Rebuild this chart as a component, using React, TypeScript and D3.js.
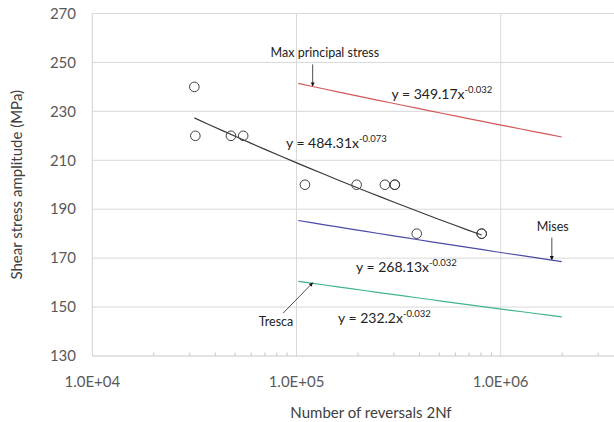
import React from "react";
import * as d3 from "d3";

const W = 614;
const H = 422;

// Experimental data (2Nf, shear stress amplitude MPa)
const expCycles = [31600, 31960, 47750, 54830, 110000, 197000, 271000, 303000, 303000, 388000, 807000, 807000];
const expStress = [240, 220, 220, 220, 200, 200, 200, 200, 200, 180, 180, 180];

// Power-law fits y = a * x^b
const fitNames = ["exp", "maxp", "mises", "tresca"];
const fitA = [484.31, 349.17, 268.13, 232.2];
const fitB = [-0.073, -0.032, -0.032, -0.032];
const fitXStart = [31600, 102000, 102000, 102000];
const fitXEnd = [807000, 1990000, 1990000, 1990000];
const fitColors = ["#3a3a3a", "#d0585a", "#4a4aa8", "#40b48c"];
const fitLabels = ["484.31", "349.17", "268.13", "232.2"];
const fitExp = ["-0.073", "-0.032", "-0.032", "-0.032"];
const eqX = [88800, 292000, 195600, 159700];
const eqY = [215.1, 235.2, 164.5, 143.5];

// Annotation labels
const annText = ["Max principal stress", "Mises", "Tresca"];
const annX = [137700, 1800000, 79400];
const annY = [252.3, 181.2, 142.3];
// arrows: from (x0,y0) to point on fit line at x1
const arrFromX = [120000, 1780000, 86000];
const arrFromY = [249.2, 178.4, 147.5];
const arrToX = [120000, 1780000, 120000];
const arrFit = [1, 2, 3];

const yTicks = [130, 150, 170, 190, 210, 230, 250, 270];
const xMajor = [1e4, 1e5, 1e6, 1e7];
const xTickLabels = ["1.0E+04", "1.0E+05", "1.0E+06"];

const FONT = "Lato, 'Noto Sans', sans-serif";

export default function App() {
  const x = d3.scaleLog().domain([1e4, 1e7]).range([92.3, 704.9]);
  const y = d3.scaleLinear().domain([130, 270]).range([356, 13.5]);
  const fit = (i: number, v: number) => fitA[i] * Math.pow(v, fitB[i]);

  const minor: number[] = [];
  [1e4, 1e5, 1e6].forEach((d) => {
    for (let k = 2; k <= 9; k++) minor.push(d * k);
  });

  return (
    <svg
      width={W}
      height={H}
      style={{ position: "absolute", left: 0, top: 0, background: "#fff" }}
      fontFamily={FONT}
    >
      <defs>
        <marker id="ah" viewBox="0 0 10 10" refX="9" refY="5" markerWidth="5" markerHeight="5" orient="auto">
          <path d="M0,0 L10,5 L0,10 z" fill="#111" />
        </marker>
      </defs>
      <rect x={0} y={0} width={W} height={H} fill="#fff" />
      {/* horizontal gridlines */}
      {yTicks.slice(1).map((t) => (
        <line key={"hy" + t} x1={x(1e4)} x2={W} y1={y(t)} y2={y(t)} stroke="#d9d9d9" strokeWidth={1} />
      ))}
      {/* vertical gridlines */}
      {xMajor.slice(1).map((t) => (
        <line key={"vx" + t} x1={x(t)} x2={x(t)} y1={y(270)} y2={y(130)} stroke="#d9d9d9" strokeWidth={1} />
      ))}
      {/* left axis */}
      <line x1={x(1e4)} x2={x(1e4)} y1={y(270)} y2={y(130)} stroke="#d0d0d0" strokeWidth={1} />
      {/* bottom axis */}
      <line x1={x(1e4)} x2={W} y1={y(130)} y2={y(130)} stroke="#c8c8c8" strokeWidth={1.2} />
      {minor.map((m) => (
        <line key={"mt" + m} x1={x(m)} x2={x(m)} y1={y(130)} y2={y(130) - 3.5} stroke="#c8c8c8" strokeWidth={1} />
      ))}
      {/* y tick labels */}
      {yTicks.map((t) => (
        <text key={"yl" + t} x={76} y={y(t)} dy="0.35em" textAnchor="end" fontSize={15} fill="#595959">
          {t}
        </text>
      ))}
      {/* x tick labels */}
      {xTickLabels.map((lab, i) => (
        <text key={"xl" + lab} x={x(xMajor[i])} y={387} textAnchor="middle" fontSize={15} fill="#595959">
          {lab}
        </text>
      ))}
      {/* axis titles */}
      <text x={371} y={418} textAnchor="middle" fontSize={15} fill="#404040">
        Number of reversals 2Nf
      </text>
      <text
        transform={`translate(22,${(y(270) + y(130)) / 2}) rotate(-90)`}
        textAnchor="middle"
        fontSize={15}
        fill="#404040"
      >
        Shear stress amplitude (MPa)
      </text>
      {/* fit lines */}
      {fitNames.map((n, i) => {
        const xs = [fitXStart[i], fitXEnd[i]];
        const pts = d3.range(0, 21).map((k) => Math.exp(Math.log(xs[0]) + (k / 20) * (Math.log(xs[1]) - Math.log(xs[0]))));
        const path = d3
          .line<number>()
          .x((d) => x(d))
          .y((d) => y(fit(i, d)))(pts);
        return <path key={n} d={path || ""} fill="none" stroke={fitColors[i]} strokeWidth={1.2} />;
      })}
      {/* data points */}
      {expCycles.map((c, i) => (
        <circle key={"p" + i} cx={x(c)} cy={y(expStress[i])} r={4.8} fill="none" stroke="#404040" strokeWidth={1} />
      ))}
      {/* equations */}
      {fitNames.map((n, i) => (
        <text key={"eq" + n} x={x(eqX[i])} y={y(eqY[i])} fontSize={14} fill="#222">
          {"y = " + fitLabels[i] + "x"}
          <tspan fontSize={9.5} dy={-6}>
            {fitExp[i]}
          </tspan>
        </text>
      ))}
      {/* annotations */}
      {annText.map((t, i) => (
        <text key={"an" + i} x={x(annX[i])} y={y(annY[i])} textAnchor="middle" fontSize={12.5} fill="#222">
          {t}
        </text>
      ))}
      {annText.map((t, i) => (
        <line
          key={"ar" + i}
          x1={x(arrFromX[i])}
          y1={y(arrFromY[i])}
          x2={x(arrToX[i])}
          y2={y(fit(arrFit[i], arrToX[i])) - 0.5}
          stroke="#222"
          strokeWidth={0.8}
          markerEnd="url(#ah)"
        />
      ))}
    </svg>
  );
}
